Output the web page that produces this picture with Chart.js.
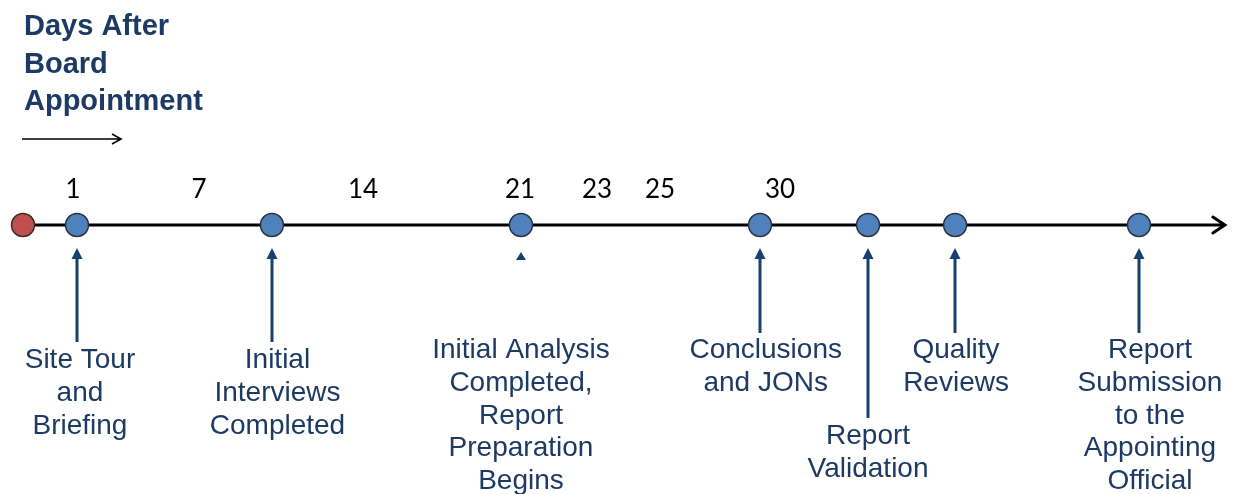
<!DOCTYPE html>
<html>
<head>
<meta charset="utf-8">
<script src="https://cdn.jsdelivr.net/npm/chart.js@4/dist/chart.umd.min.js"></script>
<style>
  html, body { margin: 0; padding: 0; background: #ffffff; }
  #wrap { width: 1236px; height: 494px; position: relative; }
</style>
</head>
<body>
<div id="wrap"><canvas id="c" width="1236" height="494"></canvas></div>
<script>
// ---- data (positions along the timeline axis, 0..100) ----
const titleLines = ['Days After', 'Board', 'Appointment'];
const dayTicks = ['1', '7', '14', '21', '23', '25', '30'];
const dayTickPos = [5.91, 16.10, 29.37, 42.07, 48.30, 53.40, 63.11];
const originPos = 1.86;
const axisEndPos = 99.1;
const milestoneLabels = [
  ['Site Tour', 'and', 'Briefing'],
  ['Initial', 'Interviews', 'Completed'],
  ['Initial Analysis', 'Completed,', 'Report', 'Preparation', 'Begins'],
  ['Conclusions', 'and JONs'],
  ['Report', 'Validation'],
  ['Quality', 'Reviews'],
  ['Report', 'Submission', 'to the', 'Appointing', 'Official']
];
const milestonePos = [6.23, 22.0, 42.15, 61.49, 70.23, 77.27, 92.15];
const labelPos = [6.47, 22.45, 42.15, 61.95, 70.23, 77.35, 93.04];

// ---- styles (layout only) ----
const calloutStyle = [
  { arrowBottom: 342, textTop: 368 },
  { arrowBottom: 342, textTop: 368 },
  { arrowBottom: 261, textTop: 358 },
  { arrowBottom: 333, textTop: 358 },
  { arrowBottom: 418, textTop: 444 },
  { arrowBottom: 333, textTop: 358 },
  { arrowBottom: 333, textTop: 358 }
];
const NAVY_TEXT = '#1c3a63';
const NAVY_ARROW = '#17406f';

const timelinePlugin = {
  id: 'timelineDecor',
  afterDatasetsDraw(chart) {
    const ctx = chart.ctx;
    const xs = chart.scales.x;
    const ys = chart.scales.y;
    const axisY = ys.getPixelForValue(0);
    ctx.save();

    // Title
    ctx.fillStyle = NAVY_TEXT;
    ctx.font = 'bold 29px "Liberation Sans", Arial, sans-serif';
    ctx.textAlign = 'left';
    ctx.textBaseline = 'alphabetic';
    titleLines.forEach((t, i) => ctx.fillText(t, 24, 35 + i * 37.5));

    // Title arrow
    ctx.strokeStyle = '#000';
    ctx.lineWidth = 1.6;
    ctx.beginPath();
    ctx.moveTo(22, 139); ctx.lineTo(121, 139);
    ctx.moveTo(112, 134); ctx.lineTo(121, 139); ctx.lineTo(112, 144);
    ctx.stroke();

    // Axis arrowhead
    const endX = xs.getPixelForValue(axisEndPos);
    ctx.lineWidth = 3;
    ctx.lineCap = 'round';
    ctx.beginPath();
    ctx.moveTo(endX - 12, axisY - 8);
    ctx.lineTo(endX, axisY);
    ctx.lineTo(endX - 12, axisY + 8);
    ctx.stroke();

    // Day tick labels
    ctx.fillStyle = '#000';
    ctx.font = '26px Lato, "Noto Sans", sans-serif';
    ctx.textAlign = 'center';
    dayTicks.forEach((t, i) => {
      ctx.fillText(t, xs.getPixelForValue(dayTickPos[i]), 198);
    });

    // Callout arrows and labels
    milestonePos.forEach((p, i) => {
      const x = Math.round(xs.getPixelForValue(p));
      const st = calloutStyle[i];
      const tipY = axisY + 23;
      ctx.fillStyle = NAVY_ARROW;
      ctx.strokeStyle = NAVY_ARROW;
      ctx.lineWidth = 3;
      ctx.lineCap = 'butt';
      if (st.arrowBottom - tipY > 15) {
        ctx.beginPath();
        ctx.moveTo(x, tipY + 8);
        ctx.lineTo(x, st.arrowBottom);
        ctx.stroke();
        ctx.beginPath();
        ctx.moveTo(x, tipY);
        ctx.lineTo(x - 5.5, tipY + 11);
        ctx.lineTo(x + 5.5, tipY + 11);
        ctx.closePath();
        ctx.fill();
      } else {
        ctx.beginPath();
        ctx.moveTo(x, tipY + 4);
        ctx.lineTo(x - 5, tipY + 12);
        ctx.lineTo(x + 5, tipY + 12);
        ctx.closePath();
        ctx.fill();
      }
      ctx.fillStyle = NAVY_TEXT;
      ctx.font = '28px "Liberation Sans", Arial, sans-serif';
      ctx.textAlign = 'center';
      const lx = xs.getPixelForValue(labelPos[i]);
      milestoneLabels[i].forEach((line, j) => {
        ctx.fillText(line, lx, st.textTop + j * 32.75);
      });
    });
    ctx.restore();
  }
};

new Chart(document.getElementById('c'), {
  type: 'scatter',
  data: {
    datasets: [
      {
        label: 'Start',
        data: [{ x: originPos, y: 0 }],
        pointRadius: 11.5,
        pointHoverRadius: 11.5,
        pointBackgroundColor: '#c0504d',
        pointBorderColor: '#3a2a2a',
        pointBorderWidth: 1.5,
        clip: false
      },
      {
        label: 'Milestones',
        data: milestonePos.map(p => ({ x: p, y: 0 })),
        pointRadius: 11.5,
        pointHoverRadius: 11.5,
        pointBackgroundColor: '#4f81bd',
        pointBorderColor: '#2b3340',
        pointBorderWidth: 1.5,
        clip: false
      },
      {
        type: 'line',
        label: 'Axis',
        data: [{ x: originPos, y: 0 }, { x: axisEndPos, y: 0 }],
        borderColor: '#000',
        borderWidth: 3,
        pointRadius: 0,
        clip: false
      }
    ]
  },
  options: {
    responsive: false,
    animation: false,
    events: [],
    layout: { autoPadding: false, padding: { left: 0, right: 0, top: 200, bottom: 244 } },
    plugins: { legend: { display: false }, tooltip: { enabled: false } },
    scales: {
      x: { type: 'linear', min: 0, max: 100, display: false },
      y: { type: 'linear', min: -1, max: 1, display: false }
    }
  },
  plugins: [timelinePlugin]
});
</script>
</body>
</html>
